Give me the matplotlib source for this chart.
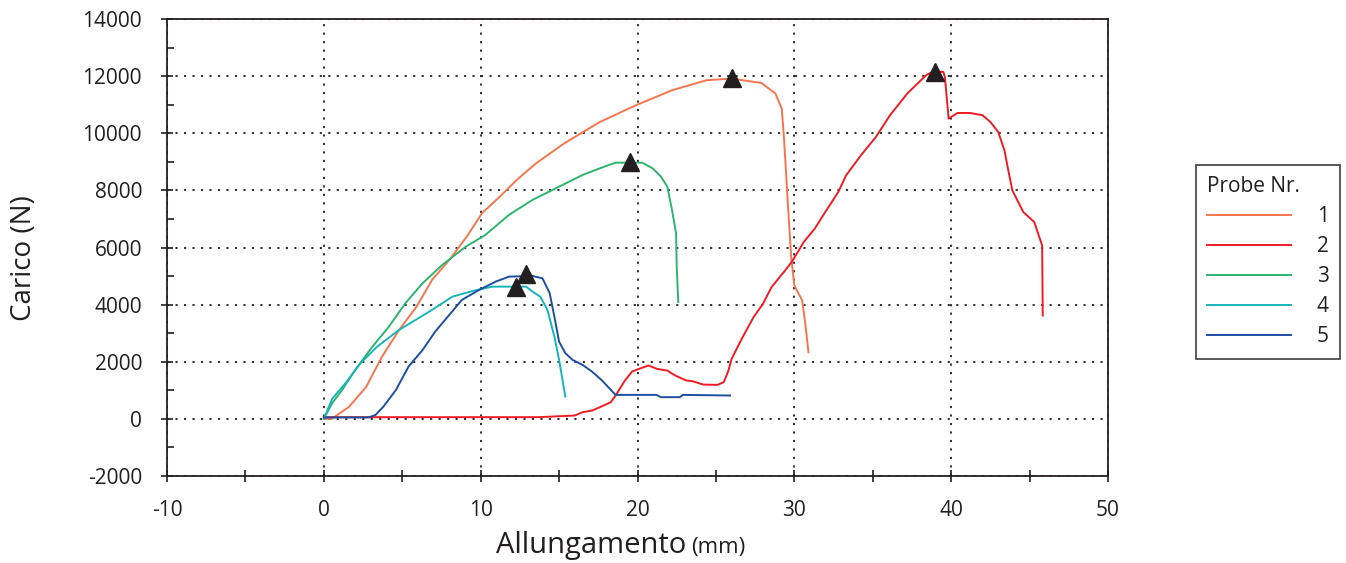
import matplotlib
matplotlib.use('Agg')
import matplotlib.pyplot as plt
from matplotlib.ticker import MultipleLocator

plt.rcParams['font.family'] = ['Open Sans', 'DejaVu Sans']
plt.rcParams['axes.unicode_minus'] = False

# Probe 1 (arancio)
x1 = [0.0, 0.5, 1.6, 2.7, 3.7, 4.8, 5.9, 6.9, 8.0, 9.1, 10.1, 11.2, 12.3, 13.5, 15.3,
      17.6, 19.9, 22.2, 24.4, 26.0, 27.9, 28.8, 29.2, 29.35, 29.6, 29.8, 30.0, 30.5, 30.7, 30.9]
y1 = [0, 0, 420, 1120, 2170, 3115, 3920, 4865, 5565, 6370, 7210, 7770, 8365, 8935, 9635,
      10395, 10980, 11505, 11855, 11915, 11760, 11390, 10860, 9750, 7415, 5665, 4670, 4145, 3330, 2335]

# Probe 2 (rosso)
x2 = [0.0, 13.7, 16.0, 16.5, 17.1, 17.6, 18.3, 18.6, 19.2, 19.66, 20.1, 20.7, 21.25, 21.9,
      22.4, 23.1, 23.5, 24.2, 25.1, 25.5, 25.8, 26.0, 26.7, 27.4, 28.0, 28.55, 29.5, 29.9,
      30.6, 31.3, 31.97, 32.8, 33.3, 34.25, 35.2, 36.1, 37.2, 38.4, 38.8, 39.5, 39.6, 39.84,
      40.4, 41.2, 42.0, 42.5, 43.0, 43.4, 43.6, 43.9, 44.6, 45.3, 45.8, 45.84]
y2 = [60, 60, 117, 234, 292, 409, 584, 818, 1343, 1660, 1750, 1870, 1750, 1690,
      1520, 1345, 1320, 1200, 1190, 1285, 1695, 2100, 2860, 3560, 4030, 4615, 5255, 5550,
      6190, 6660, 7240, 7940, 8525, 9230, 9870, 10630, 11390, 12030, 12150, 12150, 11970, 10510,
      10710, 10710, 10630, 10395, 10045, 9400, 8820, 8000, 7240, 6890, 6070, 3620]

# Probe 3 (verde)
x3 = [0.0, 0.53, 1.17, 2.0, 3.1, 4.15, 5.2, 6.3, 7.55, 9.05, 10.3, 11.8, 13.3, 14.8, 16.5,
      18.0, 18.6, 20.3, 20.97, 21.5, 21.9, 22.2, 22.46, 22.5, 22.6]
y3 = [0, 548, 1015, 1715, 2530, 3230, 4050, 4750, 5390, 6030, 6440, 7140, 7665, 8075, 8540,
      8855, 8970, 8970, 8770, 8480, 8130, 7315, 6500, 5330, 4090]

# Probe 4 (azzurro)
x4 = [0.0, 0.53, 1.38, 2.34, 3.4, 4.8, 5.85, 6.9, 8.2, 9.5, 10.75, 12.9, 13.3, 13.8, 14.26,
      14.7, 15.0, 15.4]
y4 = [0, 700, 1250, 1950, 2530, 3115, 3465, 3815, 4280, 4480, 4630, 4630, 4455, 4280, 3815,
      2880, 2065, 780]

# Probe 5 (blu)
x5 = [0.0, 2.87, 3.3, 3.8, 4.6, 5.4, 6.3, 7.1, 8.0, 8.8, 9.9, 10.96, 11.8, 13.3, 13.94, 14.4,
      14.7, 15.0, 15.4, 15.86, 16.5, 17.1, 17.7, 18.6, 21.2, 21.5, 22.7, 22.9, 25.9]
y5 = [50, 50, 140, 430, 1015, 1830, 2415, 3055, 3640, 4165, 4515, 4805, 4980, 5005, 4920, 4400,
      3580, 2705, 2300, 2065, 1890, 1655, 1365, 840, 840, 760, 760, 840, 818]

# carico massimo (triangoli)
peak_x = [26.05, 38.95, 19.5, 12.26, 12.9]
peak_y = [11935, 12145, 8995, 4620, 5075]

labels = ['1', '2', '3', '4', '5']
colors = ['#F4764F', '#EE1C25', '#2DB46E', '#18B4BB', '#1D4FA0']
txt = '#231F20'

fig = plt.figure(figsize=(13.46, 5.63), dpi=100)
ax = fig.add_axes([167 / 1346, 1 - 476 / 563, (1108 - 167) / 1346, (476 - 19) / 563])

for xs, ys, c, lab in zip([x1, x2, x3, x4, x5], [y1, y2, y3, y4, y5], colors, labels):
    ax.plot(xs, ys, color=c, lw=1.4, label=lab, zorder=3)

ax.plot(peak_x, peak_y, linestyle='none', marker='^', markersize=13,
        color='#231F20', zorder=4)

ax.set_xlim(-10, 50)
ax.set_ylim(-2000, 14000)
ax.xaxis.set_major_locator(MultipleLocator(10))
ax.xaxis.set_minor_locator(MultipleLocator(5))
ax.yaxis.set_major_locator(MultipleLocator(2000))
ax.yaxis.set_minor_locator(MultipleLocator(1000))
ax.grid(True, which='major', color='#231F20', linestyle=(0, (1.2, 3.5)), lw=1.3, zorder=1)

ax.tick_params(axis='both', which='major', direction='inout', length=8, width=1.2,
               colors=txt, labelsize=15)
ax.tick_params(axis='x', which='major', pad=13)
ax.tick_params(axis='y', which='major', pad=14)
ax.tick_params(axis='x', which='minor', direction='inout', length=8, width=1.2, color=txt)
ax.tick_params(axis='y', which='minor', direction='in', length=5, width=1.2, color=txt)
for sp in ax.spines.values():
    sp.set_color(txt)
    sp.set_linewidth(1.3)

# etichette assi
fig.text(24 / 1346, 1 - 258 / 563, 'Carico (N)', fontsize=20, color=txt,
         rotation=90, ha='center', va='center')
fig.text(496 / 1346, 1 - 553 / 563, 'Allungamento', fontsize=21, color=txt,
         ha='left', va='baseline')
fig.text(691 / 1346, 1 - 553 / 563, '(mm)', fontsize=16, color=txt,
         ha='left', va='baseline')

leg = ax.legend(title='Probe Nr.', loc='upper left', bbox_to_anchor=(1196 / 1346, 1 - 165 / 563),
                bbox_transform=fig.transFigure, fontsize=15, title_fontsize=15,
                frameon=True, fancybox=False, edgecolor=txt, handlelength=4.0,
                handletextpad=1.25, labelspacing=0.43, borderpad=0.55, alignment='left',
                borderaxespad=0)
leg.get_frame().set_linewidth(1.3)
for t in leg.get_texts():
    t.set_color(txt)
leg.get_title().set_color(txt)

fig.savefig('out.png', dpi=100)
